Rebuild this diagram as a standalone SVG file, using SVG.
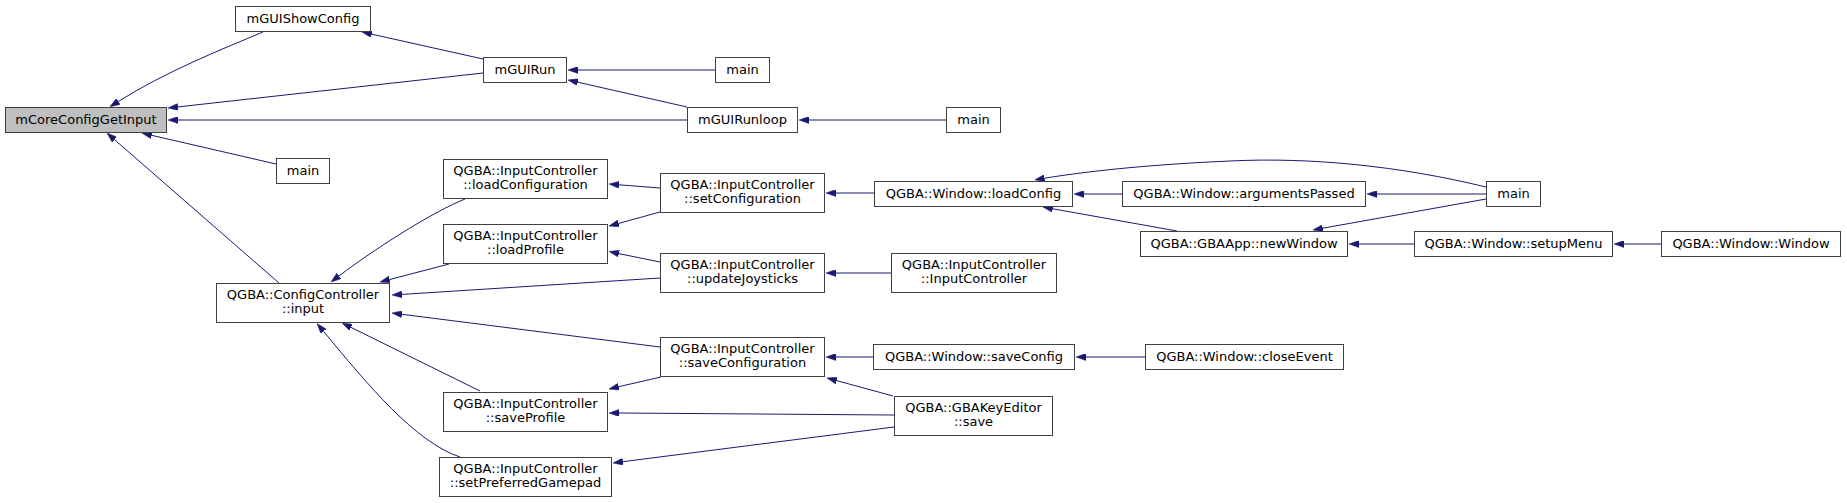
<svg xmlns="http://www.w3.org/2000/svg" width="1847" height="503" viewBox="0 0 1847 503">
<style>
.n rect{fill:#ffffff;stroke:#404040;stroke-width:1}
.n.hl rect{fill:#bfbfbf}
.n text{font-family:"DejaVu Sans",sans-serif;font-size:13px;fill:#000;text-anchor:middle}
#edges path{fill:none;stroke:#191970;stroke-width:1;marker-end:url(#ah)}
</style>
<defs>
<marker id="ah" viewBox="0 0 10 7" refX="0" refY="3.5" markerWidth="10" markerHeight="7" markerUnits="userSpaceOnUse" orient="auto">
<path d="M0,0 L10,3.5 L0,7 z" fill="#191970" stroke="#191970" stroke-width="0.5"/>
</marker>
</defs>
<rect width="1847" height="503" fill="#ffffff"/>
<g id="edges">
<path d="M263,32 C220,50 165,72 118.3,101.5"/>
<path d="M483,59 L371.8,34.2"/>
<path d="M483,73 L178,106.9"/>
<path d="M687,120 L178,120"/>
<path d="M276,164 L151.7,135.3"/>
<path d="M279,283 L114.5,139.6"/>
<path d="M715,70 L578,70"/>
<path d="M687,107 L577.8,82.2"/>
<path d="M946,120 L809,120"/>
<path d="M465,199 C435,211 380,245 338.9,276"/>
<path d="M449,264 L389.7,279.5"/>
<path d="M660,278 L402,294.4"/>
<path d="M660,347 L401.9,314.3"/>
<path d="M480,391 L351,327.4"/>
<path d="M460,457 C415,442 368,385 323.5,331.3"/>
<path d="M660,188 L619,184.8"/>
<path d="M660,212 L618.6,223.4"/>
<path d="M660,262 L618.9,253.6"/>
<path d="M661,377 L618.7,386.7"/>
<path d="M894,415 L619,413"/>
<path d="M894,427 L622.9,461.7"/>
<path d="M874,193 L836,193"/>
<path d="M891,273 L836,273"/>
<path d="M873,357 L836,357"/>
<path d="M893,396 L836.6,380.6"/>
<path d="M1122,194 L1084,194"/>
<path d="M1486,187 C1400,166 1310,157 1230,161 C1160,164 1095,170 1044.6,178.2"/>
<path d="M1177,231 L1052.8,208.8"/>
<path d="M1486,194 L1377,194"/>
<path d="M1486,199 L1322.8,228.2"/>
<path d="M1414,244 L1359,244"/>
<path d="M1661,244 L1624,244"/>
<path d="M1145,357 L1086,357"/>
</g>
<g id="node_mCoreConfigGetInput" class="n hl"><rect x="5.5" y="107.5" width="161" height="25"/><text x="86" y="124">mCoreConfigGetInput</text></g>
<g id="node_mGUIShowConfig" class="n"><rect x="235.5" y="6.5" width="135" height="25"/><text x="303" y="23">mGUIShowConfig</text></g>
<g id="node_mGUIRun" class="n"><rect x="483.5" y="57.5" width="83" height="25"/><text x="525" y="74">mGUIRun</text></g>
<g id="node_main_a" class="n"><rect x="715.5" y="57.5" width="54" height="25"/><text x="742.5" y="74">main</text></g>
<g id="node_mGUIRunloop" class="n"><rect x="687.5" y="107.5" width="110" height="25"/><text x="742.5" y="124">mGUIRunloop</text></g>
<g id="node_main_b" class="n"><rect x="946.5" y="107.5" width="54" height="25"/><text x="973.5" y="124">main</text></g>
<g id="node_main_c" class="n"><rect x="276.5" y="158.5" width="53" height="25"/><text x="303" y="175">main</text></g>
<g id="node_loadConfiguration" class="n"><rect x="443.5" y="159.5" width="164" height="39"/><text x="525.5" y="175">QGBA::InputController</text><text x="525.5" y="189">::loadConfiguration</text></g>
<g id="node_loadProfile" class="n"><rect x="443.5" y="224.5" width="164" height="39"/><text x="525.5" y="240">QGBA::InputController</text><text x="525.5" y="254">::loadProfile</text></g>
<g id="node_ConfigController_input" class="n"><rect x="216.5" y="283.5" width="173" height="39"/><text x="303" y="299">QGBA::ConfigController</text><text x="303" y="313">::input</text></g>
<g id="node_saveProfile" class="n"><rect x="443.5" y="392.5" width="164" height="39"/><text x="525.5" y="408">QGBA::InputController</text><text x="525.5" y="422">::saveProfile</text></g>
<g id="node_setPreferredGamepad" class="n"><rect x="439.5" y="457.5" width="172" height="39"/><text x="525.5" y="473">QGBA::InputController</text><text x="525.5" y="487">::setPreferredGamepad</text></g>
<g id="node_setConfiguration" class="n"><rect x="660.5" y="173.5" width="164" height="39"/><text x="742.5" y="189">QGBA::InputController</text><text x="742.5" y="203">::setConfiguration</text></g>
<g id="node_updateJoysticks" class="n"><rect x="660.5" y="253.5" width="164" height="39"/><text x="742.5" y="269">QGBA::InputController</text><text x="742.5" y="283">::updateJoysticks</text></g>
<g id="node_saveConfiguration" class="n"><rect x="660.5" y="337.5" width="164" height="39"/><text x="742.5" y="353">QGBA::InputController</text><text x="742.5" y="367">::saveConfiguration</text></g>
<g id="node_loadConfig" class="n"><rect x="874.5" y="181.5" width="198" height="25"/><text x="973.5" y="198">QGBA::Window::loadConfig</text></g>
<g id="node_InputController_ctor" class="n"><rect x="891.5" y="253.5" width="165" height="39"/><text x="974" y="269">QGBA::InputController</text><text x="974" y="283">::InputController</text></g>
<g id="node_saveConfig" class="n"><rect x="873.5" y="344.5" width="201" height="25"/><text x="974" y="361">QGBA::Window::saveConfig</text></g>
<g id="node_GBAKeyEditor_save" class="n"><rect x="894.5" y="396.5" width="158" height="39"/><text x="973.5" y="412">QGBA::GBAKeyEditor</text><text x="973.5" y="426">::save</text></g>
<g id="node_argumentsPassed" class="n"><rect x="1122.5" y="181.5" width="243" height="25"/><text x="1244" y="198">QGBA::Window::argumentsPassed</text></g>
<g id="node_newWindow" class="n"><rect x="1140.5" y="231.5" width="207" height="25"/><text x="1244" y="248">QGBA::GBAApp::newWindow</text></g>
<g id="node_closeEvent" class="n"><rect x="1145.5" y="344.5" width="198" height="25"/><text x="1244.5" y="361">QGBA::Window::closeEvent</text></g>
<g id="node_main_d" class="n"><rect x="1486.5" y="181.5" width="54" height="25"/><text x="1513.5" y="198">main</text></g>
<g id="node_setupMenu" class="n"><rect x="1414.5" y="231.5" width="198" height="25"/><text x="1513.5" y="248">QGBA::Window::setupMenu</text></g>
<g id="node_Window_ctor" class="n"><rect x="1661.5" y="231.5" width="179" height="25"/><text x="1751" y="248">QGBA::Window::Window</text></g>
</svg>
